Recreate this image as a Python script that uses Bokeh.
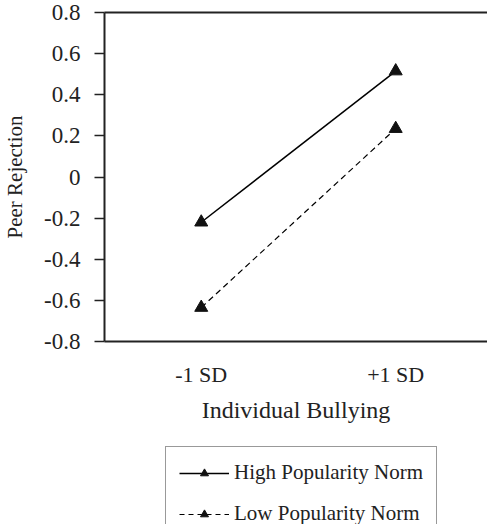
from bokeh.plotting import figure
from bokeh.layouts import column
from bokeh.models import Range1d, FixedTicker, LinearAxis, Legend, LegendItem
from bokeh.embed import file_html
from bokeh.resources import INLINE

categories = ["-1 SD", "+1 SD"]
high_norm = [-0.22, 0.515]
low_norm = [-0.635, 0.235]
y_ticks = [-0.8, -0.6, -0.4, -0.2, 0, 0.2, 0.4, 0.6, 0.8]
y_tick_labels = ["-0.8", "-0.6", "-0.4", "-0.2", "0", "0.2", "0.4", "0.6", "0.8"]
series_names = ["High Popularity Norm", "Low Popularity Norm"]

FONT = "Liberation Serif"
INK = "#222222"
xs = list(range(len(categories)))

p = figure(width=487, height=426, output_backend="svg", toolbar_location=None,
           x_range=Range1d(-0.4975, 1.472), y_range=Range1d(-0.8, 0.8),
           min_border_left=99, min_border_right=0, min_border_top=12,
           min_border_bottom=85)
p.background_fill_color = "white"
p.border_fill_color = "white"
p.outline_line_color = None
p.grid.visible = False

# x axis
xa = p.xaxis[0]
xa.ticker = FixedTicker(ticks=xs)
xa.major_label_overrides = {i: c for i, c in zip(xs, categories)}
xa.major_tick_out = 0
xa.major_tick_in = 0
xa.minor_tick_out = 0
xa.minor_tick_in = 0
xa.axis_line_width = 2
xa.axis_line_color = INK
xa.major_label_text_font = FONT
xa.major_label_text_font_size = "22px"
xa.major_label_text_color = INK
xa.major_label_standoff = 20
xa.axis_label = "Individual Bullying"
xa.axis_label_text_font = FONT
xa.axis_label_text_font_size = "24px"
xa.axis_label_text_font_style = "normal"
xa.axis_label_text_color = INK
xa.axis_label_standoff = 7

# y axis
ya = p.yaxis[0]
ya.ticker = FixedTicker(ticks=y_ticks)
ya.major_label_overrides = {t: l for t, l in zip(y_ticks, y_tick_labels)}
ya.major_tick_out = 10
ya.major_tick_in = 0
ya.minor_tick_out = 0
ya.minor_tick_in = 0
ya.major_tick_line_width = 1.5
ya.axis_line_width = 2
ya.axis_line_color = INK
ya.major_tick_line_color = INK
ya.major_label_text_font = FONT
ya.major_label_text_font_size = "23px"
ya.major_label_text_color = INK
ya.major_label_standoff = 14
ya.axis_label = "Peer Rejection"
ya.axis_label_text_font = FONT
ya.axis_label_text_font_size = "21px"
ya.axis_label_text_font_style = "normal"
ya.axis_label_text_color = INK
ya.axis_label_standoff = 14

# top border line
top = LinearAxis(ticker=FixedTicker(ticks=[]), axis_line_width=2,
                 axis_line_color=INK, major_tick_out=0, major_tick_in=0,
                 minor_tick_out=0, minor_tick_in=0)
p.add_layout(top, "above")

p.line(xs, high_norm, line_color="black", line_width=1.5)
p.scatter(xs, high_norm, marker="triangle", size=13, fill_color="#111111",
          line_color="#111111")
p.line(xs, low_norm, line_color="black", line_width=1.2, line_dash="6 4")
p.scatter(xs, low_norm, marker="triangle", size=13, fill_color="#111111",
          line_color="#111111")

# legend panel (second figure; its glyphs lie outside its visible range)
q = figure(width=487, height=98, output_backend="svg", toolbar_location=None,
           x_range=Range1d(10, 11), y_range=Range1d(10, 11),
           x_axis_location=None, y_axis_location=None, min_border=0)
q.outline_line_color = None
q.grid.visible = False
q.background_fill_color = "white"
q.border_fill_color = "white"
hl = q.line(xs, high_norm, line_color="black", line_width=1.5)
hs = q.scatter(xs, high_norm, marker="triangle", size=13, fill_color="#111111",
               line_color="#111111")
ll = q.line(xs, low_norm, line_color="black", line_width=1.2, line_dash="5 4")
ls = q.scatter(xs, low_norm, marker="triangle", size=13, fill_color="#111111",
               line_color="#111111")

legend = Legend(items=[LegendItem(label=series_names[0], renderers=[hl, hs]),
                       LegendItem(label=series_names[1], renderers=[ll, ls])],
                location=(61, -16), orientation="vertical",
                label_text_font=FONT, label_text_font_size="21px",
                label_text_color=INK,
                glyph_width=50, glyph_height=20, label_height=20,
                label_standoff=5, spacing=16, padding=13, margin=0,
                border_line_color="#333333", border_line_width=1.5,
                background_fill_alpha=1.0)
q.add_layout(legend, "center")

layout = column(p, q, spacing=0)
open("out.html", "w").write(file_html(layout, INLINE))
